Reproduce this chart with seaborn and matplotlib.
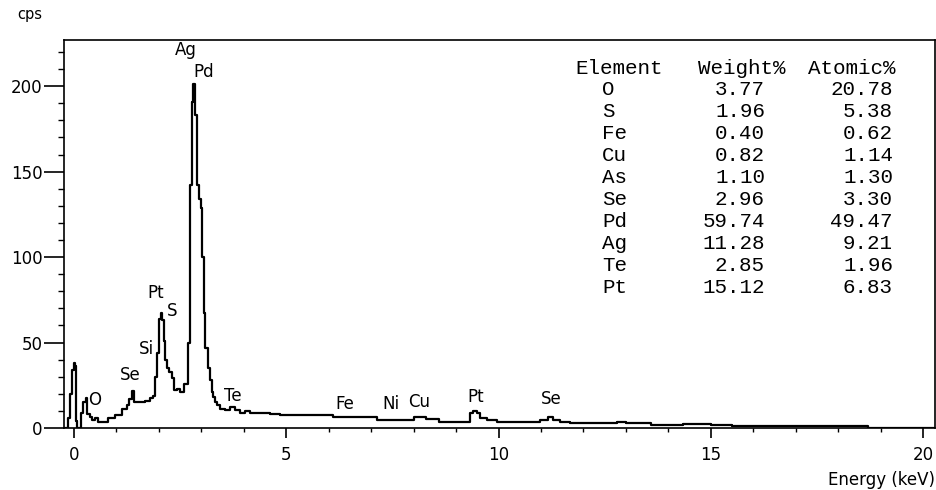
import matplotlib
matplotlib.use("Agg")
import matplotlib.pyplot as plt
import pandas as pd
import seaborn as sns
from matplotlib.ticker import MultipleLocator

# EDS spectrum: energy (keV) and count rate (cps)
energy_kev = [
    -0.24, -0.17, -0.14, -0.10, -0.05, 0.00, 0.03, 0.05, 0.07, 0.14,
    0.17, 0.22, 0.28, 0.31, 0.38, 0.43, 0.49, 0.57, 0.69, 0.81,
    0.97, 1.12, 1.24, 1.30, 1.36, 1.41, 1.51, 1.67, 1.79, 1.87,
    1.91, 1.96, 2.00, 2.04, 2.08, 2.11, 2.15, 2.19, 2.24, 2.30,
    2.36, 2.42, 2.50, 2.58, 2.68, 2.73, 2.78, 2.81, 2.85, 2.90,
    2.94, 2.99, 3.02, 3.05, 3.09, 3.16, 3.20, 3.24, 3.27, 3.32,
    3.37, 3.44, 3.56, 3.67, 3.79, 3.91, 4.03, 4.15, 4.38, 4.62,
    4.85, 5.32, 6.10, 6.90, 7.14, 7.60, 8.00, 8.30, 8.60, 9.17,
    9.33, 9.40, 9.50, 9.56, 9.72, 9.96, 10.40, 10.98, 11.17, 11.28,
    11.45, 11.68, 12.40, 12.80, 13.00, 13.60, 14.35, 15.00, 15.50, 18.30,
    18.70, 20.28,
]
counts_cps = [
    0, 0, 6, 20, 34, 38, 36, 4, 0, 0,
    9, 15, 17.5, 8, 6.5, 4.5, 6, 3.5, 3.5, 5.8,
    7.6, 11, 13.4, 17, 21.5, 15, 15, 16, 17.5, 19,
    30, 44, 64, 67, 63, 51, 40, 35, 33, 29,
    22, 23, 21, 26, 50, 142, 191, 201, 183, 142,
    134, 129, 100, 67, 47, 35, 28, 21, 18, 15,
    13.4, 11, 10.5, 12, 10.5, 8.7, 10, 8.7, 8.5, 8,
    7.5, 7.5, 6.4, 6.5, 4.7, 4.7, 6.5, 5.2, 3.7, 3.7,
    8.7, 10, 8.7, 5.8, 4.7, 3.7, 3.7, 4.7, 6.5, 4.7,
    3.7, 3, 3, 3.7, 3, 2, 2.3, 2, 1.2, 1.2,
    0, 0,
]

# Peak identifications
peak_labels = ["Ag", "Pd", "Pt", "S", "Si", "Se", "O", "Te", "Fe", "Ni", "Cu", "Pt", "Se"]
peak_label_kev = [2.63, 3.05, 1.93, 2.32, 1.71, 1.32, 0.49, 3.75, 6.38, 7.46, 8.12, 9.45, 11.23]
peak_label_cps = [221.0, 208.5, 79.0, 68.5, 46.0, 31.0, 16.3, 19.0, 14.3, 14.3, 15.1, 18.0, 17.2]

# Quantification table
elements = ["O", "S", "Fe", "Cu", "As", "Se", "Pd", "Ag", "Te", "Pt"]
weight_pct = ["3.77", "1.96", "0.40", "0.82", "1.10", "2.96", "59.74", "11.28", "2.85", "15.12"]
atomic_pct = ["20.78", "5.38", "0.62", "1.14", "1.30", "3.30", "49.47", "9.21", "1.96", "6.83"]

W, H = 937, 490

sns.set_style("ticks")
plt.rcParams["font.family"] = ["DejaVu Sans"]
plt.rcParams["text.color"] = "black"
plt.rcParams["xtick.color"] = "black"
plt.rcParams["ytick.color"] = "black"
plt.rcParams["xtick.labelcolor"] = "black"
plt.rcParams["ytick.labelcolor"] = "black"

fig = plt.figure(figsize=(W / 100, H / 100), dpi=100)
ax = fig.add_axes([64 / W, 1 - 428 / H, 871 / W, 388 / H])

spectrum = pd.DataFrame({"energy": energy_kev, "cps": counts_cps})
sns.lineplot(data=spectrum, x="energy", y="cps", color="black", linewidth=1.6,
             estimator=None, sort=False, drawstyle="steps-post", ax=ax)

ax.set_xlim(-0.236, 20.28)
ax.set_ylim(0, 227)
ax.set_xlabel("")
ax.set_ylabel("")

for side in ["top", "bottom", "left", "right"]:
    ax.spines[side].set_visible(True)
    ax.spines[side].set_color("black")
    ax.spines[side].set_linewidth(1.2)

ax.xaxis.set_major_locator(MultipleLocator(5))
ax.xaxis.set_minor_locator(MultipleLocator(1))
ax.yaxis.set_major_locator(MultipleLocator(50))
ax.yaxis.set_minor_locator(MultipleLocator(10))
ax.tick_params(axis="both", which="both", direction="out", color="black",
               labelcolor="black", bottom=True, left=True, top=False, right=False,
               labelsize=12)
ax.tick_params(axis="x", which="major", length=7, width=1.2, pad=6)
ax.tick_params(axis="x", which="minor", length=3, width=1.0)
ax.tick_params(axis="y", which="major", length=14.5, width=1.2, pad=1)
ax.tick_params(axis="y", which="minor", length=4.3, width=1.0)

for lab, xk, yc in zip(peak_labels, peak_label_kev, peak_label_cps):
    ax.text(xk, yc, lab, ha="center", va="center", fontsize=12, color="black")

fig.text(17 / W, 1 - 15 / H, "cps", ha="left", va="center", fontsize=10.5, color="black")
fig.text(935 / W, 1 - 480 / H, "Energy (keV)", ha="right", va="center", fontsize=12,
         color="black")

# Quantification table in monospace
mono = dict(family=["Liberation Mono", "DejaVu Sans Mono"], fontsize=15, va="center",
            color="black")
row_y = [68 + 21.9 * i for i in range(len(elements) + 1)]
fig.text(575 / W, 1 - row_y[0] / H, "Element", ha="left", **mono)
fig.text(698 / W, 1 - row_y[0] / H, "Weight%", ha="left", **mono)
fig.text(808 / W, 1 - row_y[0] / H, "Atomic%", ha="left", **mono)
for i, (el, wp, ap) in enumerate(zip(elements, weight_pct, atomic_pct), start=1):
    y = 1 - row_y[i] / H
    fig.text(602 / W, y, el, ha="left", **mono)
    fig.text(765 / W, y, wp, ha="right", **mono)
    fig.text(893 / W, y, ap, ha="right", **mono)

fig.savefig("out.png", dpi=100)
